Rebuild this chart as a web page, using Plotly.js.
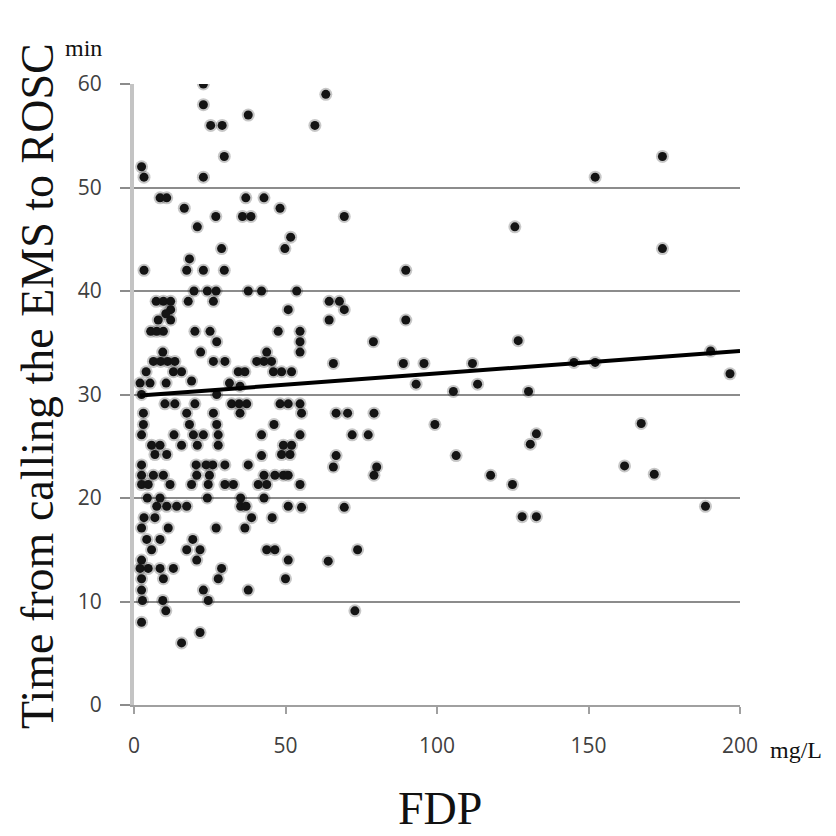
<!DOCTYPE html>
<html>
<head>
<meta charset="utf-8">
<script src="https://cdn.plot.ly/plotly-3.0.1.min.js"></script>
<style>
html,body{margin:0;padding:0;background:#fff;}
#chart{width:836px;height:836px;}
</style>
</head>
<body>
<div id="chart"></div>
<script>
// FDP (mg/L) and time from calling EMS to ROSC (min)
const fdp = [
22.9,22.9,25.3,29.1,37.7,59.7,63.3,29.8,2.5,3.3,22.9,174.4,152.2,
8.6,10.8,16.6,36.9,42.9,48.2,27,35.8,38.6,20.9,51.7,49.8,28.9,18.3,3.3,17.4,22.9,29.8,69.4,125.7,89.7,174.4,
19.8,24.2,27.1,37.7,42.1,53.7,
7.3,9.7,12.1,17.9,26.2,64.4,67.8,
12.1,50.9,69.4,
8,12.1,64.4,89.7,10.5,
5.5,7.5,9.7,20.1,25.1,47.6,54.8,
27.3,54.8,79,126.8,
9.5,22,43.8,54.8,
6.4,8.8,11.1,13.5,26.2,30,40.5,42.9,45.4,65.8,88.9,95.7,111.7,145.2,152.2,190.3,
4,13,15.7,34.4,36.6,46,48.7,52,196.7,
2,5.3,10.6,19,31.5,35,93.1,113.4,
2.5,27.3,105.4,130.2,
10.2,13.5,20.1,32.2,34.7,37.2,48.2,50.9,54.8,
35,55.3,3.1,17.4,26.2,66.7,70.5,79.2,
3.1,18.3,27.3,46.2,99.3,167.4,
2.5,13.2,19.6,22.9,27.8,42.1,54.8,72,77.3,132.8,
5.8,8.6,15.7,20.9,27.8,49.3,52,130.8,
6.9,10.8,42.1,48.7,51.5,66.7,106.3,
2.5,20.5,23.8,26,30,37.7,65.8,80.1,161.9,
2.5,6.4,9.7,20.7,24.9,42.9,46.5,49.3,50.9,79.2,117.7,171.7,
2.5,4.7,11.9,19,24.5,30,32.8,41,43.8,54.8,124.9,
4.4,8.6,24.2,35.2,42.9,
7.5,10.8,14.1,17.4,35.2,37,50.9,55.3,69.4,188.6,
3.3,6.9,38.8,45.6,128.1,132.8,
2.5,11.3,27.1,36.6,
4.2,8.6,19.4,
5.8,17.4,21.8,43.8,46.5,73.8,
2.5,20.7,50.9,64.1,
2,4.7,8.6,13,28.9,
2.5,9.7,27.8,50,
2.5,22.9,37.7,
2.8,9.5,24.5,
10.5,72.9,
2.5,21.8,15.7
];
const rosc = [
60,58,56,56,57,56,59,53,52,51,51,53,51,
49,49,48,49,49,48,47.2,47.2,47.2,46.2,45.2,44.1,44.1,43.1,42,42,42,42,47.2,46.2,42,44.1,
40,40,40,40,40,40,
39,39,39,39,39,39,39,
38.2,38.2,38.2,
37.2,37.2,37.2,37.2,37.8,
36.1,36.1,36.1,36.1,36.1,36.1,36.1,
35.1,35.1,35.1,35.2,
34.1,34.1,34.1,34.1,
33.2,33.2,33.2,33.2,33.2,33.2,33.2,33.2,33.2,33,33,33,33,33.1,33.1,34.2,
32.2,32.2,32.2,32.2,32.2,32.2,32.2,32.2,32,
31.1,31.1,31.1,31.3,31.1,30.8,31,31,
30,30,30.3,30.3,
29.1,29.1,29.1,29.1,29.1,29.1,29.1,29.1,29.1,
28.2,28.2,28.2,28.2,28.2,28.2,28.2,28.2,
27.1,27.1,27.1,27.1,27.1,27.2,
26.1,26.1,26.1,26.1,26.1,26.1,26.1,26.1,26.1,26.2,
25.1,25.1,25.1,25.1,25.1,25.1,25.1,25.2,
24.2,24.2,24.1,24.2,24.2,24.1,24.1,
23.2,23.2,23.2,23.2,23.2,23.2,23,23,23.1,
22.2,22.2,22.2,22.2,22.2,22.2,22.2,22.2,22.2,22.2,22.2,22.3,
21.3,21.3,21.3,21.3,21.3,21.3,21.3,21.3,21.3,21.3,21.3,
20,20,20,20,20,
19.2,19.2,19.2,19.2,19.2,19.2,19.2,19.1,19.1,19.2,
18.1,18.1,18.1,18.1,18.2,18.2,
17.1,17.1,17.1,17.1,
16,16,16,
15,15,15,15,15,15,
14,14,14,13.9,
13.2,13.2,13.2,13.2,13.2,
12.2,12.2,12.2,12.2,
11.1,11.1,11.1,
10.1,10.1,10.1,
9.1,9.1,
8,7,6
];
// linear trend line end points
const trendX = [2, 200];
const trendY = [29.9, 34.2];
const yTicks = [0,10,20,30,40,50,60];
const xTicks = [0,50,100,150,200];
const yTitle = 'Time from calling the EMS to ROSC';
const xTitle = 'FDP';
const yUnit = 'min';
const xUnit = 'mg/L';

const serif = 'Liberation Serif, Times New Roman, serif';
const sans = 'Open Sans, Liberation Sans, sans-serif';

const traces = [
  {x: fdp, y: rosc, type: 'scatter', mode: 'markers', hoverinfo: 'skip',
   marker: {size: 13, color: 'rgba(0,0,0,0.22)', line: {width: 0}}},
  {x: fdp, y: rosc, type: 'scatter', mode: 'markers',
   marker: {size: 9, color: '#141414', line: {width: 0}}},
  {x: trendX, y: trendY, type: 'scatter', mode: 'lines',
   line: {color: '#000', width: 4}}
];

const layout = {
  width: 836, height: 836,
  margin: {l: 134, r: 96, t: 84, b: 131, pad: 0},
  paper_bgcolor: '#fff', plot_bgcolor: '#fff',
  showlegend: false,
  xaxis: {
    range: [0, 200], tickvals: xTicks, ticktext: xTicks.map(String),
    showgrid: false, zeroline: false,
    showline: true, linecolor: '#a0a0a0', linewidth: 2,
    ticks: 'outside', ticklen: 7, tickwidth: 2, tickcolor: '#a0a0a0',
    ticklabelstandoff: 14,
    tickfont: {family: sans, size: 21, color: '#404040'}
  },
  yaxis: {
    range: [0, 60], tickvals: yTicks, ticktext: yTicks.map(String),
    showgrid: true, gridcolor: '#8c8c8c', gridwidth: 2,
    zeroline: false,
    showline: true, linecolor: '#c4c4c4', linewidth: 4,
    ticks: 'outside', ticklen: 10, tickwidth: 2, tickcolor: '#8c8c8c',
    ticklabelstandoff: 14,
    tickfont: {family: sans, size: 21, color: '#404040'}
  },
  annotations: [
    {xref: 'paper', yref: 'paper', x: (37-134)/606, y: (705-386)/621,
     text: yTitle, textangle: -90, showarrow: false, xanchor: 'center', yanchor: 'middle',
     font: {family: serif, size: 46, color: '#111'}},
    {xref: 'paper', yref: 'paper', x: (440-134)/606, y: -(808-705)/621,
     text: xTitle, showarrow: false, xanchor: 'center', yanchor: 'middle',
     font: {family: serif, size: 46, color: '#111'}},
    {xref: 'paper', yref: 'paper', x: (83-134)/606, y: 1 + (84-48)/621,
     text: yUnit, showarrow: false, xanchor: 'center', yanchor: 'middle',
     font: {family: serif, size: 24, color: '#111'}},
    {xref: 'paper', yref: 'paper', x: (768-134)/606, y: -(750-705)/621,
     text: xUnit, showarrow: false, xanchor: 'left', yanchor: 'middle',
     font: {family: serif, size: 24, color: '#111'}}
  ]
};

Plotly.newPlot('chart', traces, layout, {staticPlot: true, displayModeBar: false});
</script>
</body>
</html>
